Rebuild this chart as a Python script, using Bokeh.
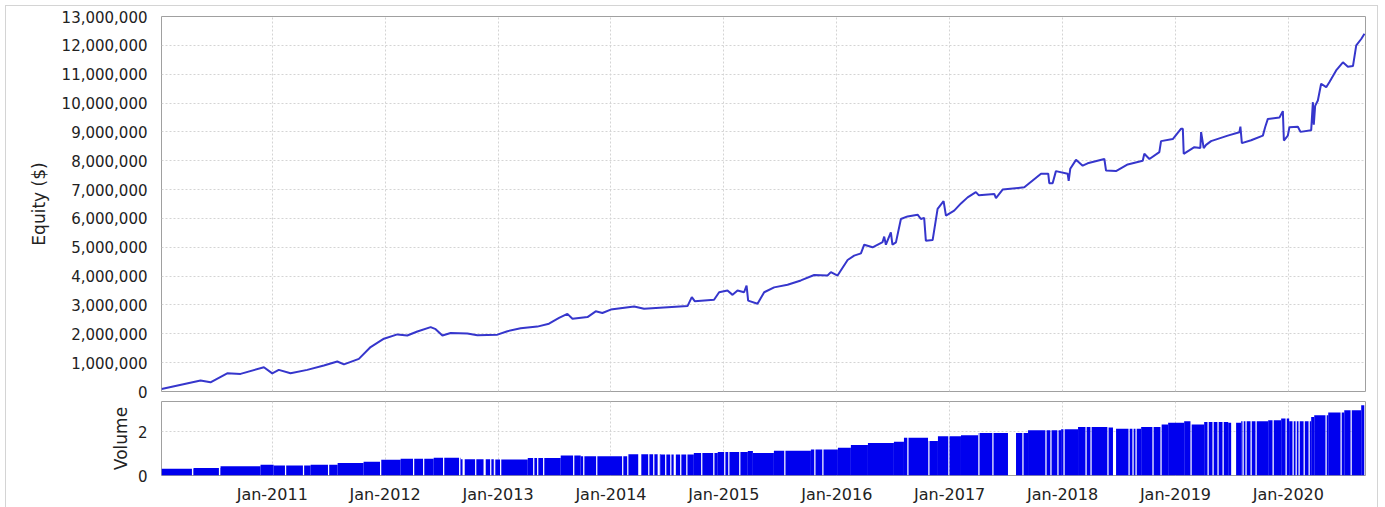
from bokeh.plotting import figure
from bokeh.layouts import column
from bokeh.models import (FixedTicker, NumeralTickFormatter, Range1d,
                          ColumnDataSource, CustomJSTickFormatter)
from bokeh.embed import file_html
from bokeh.resources import INLINE

# ---------------- data ----------------
tick_years = [2011, 2012, 2013, 2014, 2015, 2016, 2017, 2018, 2019, 2020]
tick_labels = ["Jan-2011", "Jan-2012", "Jan-2013", "Jan-2014", "Jan-2015",
               "Jan-2016", "Jan-2017", "Jan-2018", "Jan-2019", "Jan-2020"]

equity_ticks = [0, 1e6, 2e6, 3e6, 4e6, 5e6, 6e6, 7e6, 8e6, 9e6, 10e6, 11e6, 12e6, 13e6]
volume_ticks = [0, 2]

# equity curve: decimal year, equity in millions of $
equity_t = [2010.02, 2010.365, 2010.453, 2010.601, 2010.719, 2010.926, 2011.000, 2011.058, 2011.162, 2011.310,
            2011.457, 2011.576, 2011.635, 2011.767, 2011.871, 2011.989, 2012.108, 2012.196, 2012.285, 2012.403,
            2012.447, 2012.507, 2012.580, 2012.728, 2012.817, 2012.994, 2013.083, 2013.200, 2013.348, 2013.451,
            2013.540, 2013.614, 2013.659, 2013.792, 2013.865, 2013.924, 2013.998, 2014.205, 2014.293, 2014.678,
            2014.716, 2014.742, 2014.913, 2014.958, 2015.032, 2015.077, 2015.121, 2015.179, 2015.201, 2015.215,
            2015.298, 2015.357, 2015.445, 2015.564, 2015.682, 2015.800, 2015.918, 2015.948, 2016.007, 2016.096,
            2016.154, 2016.214, 2016.243, 2016.317, 2016.406, 2016.420, 2016.435, 2016.479, 2016.493, 2016.524,
            2016.568, 2016.627, 2016.716, 2016.745, 2016.774, 2016.789, 2016.849, 2016.893, 2016.946, 2016.967,
            2017.040, 2017.100, 2017.159, 2017.232, 2017.259, 2017.395, 2017.410, 2017.469, 2017.661, 2017.809,
            2017.873, 2017.882, 2017.912, 2017.941, 2018.045, 2018.054, 2018.068, 2018.119, 2018.178, 2018.222,
            2018.370, 2018.385, 2018.473, 2018.577, 2018.710, 2018.724, 2018.769, 2018.857, 2018.872, 2018.976,
            2019.050, 2019.065, 2019.073, 2019.167, 2019.220, 2019.227, 2019.250, 2019.271, 2019.315, 2019.463,
            2019.566, 2019.575, 2019.588, 2019.670, 2019.774, 2019.794, 2019.818, 2019.921, 2019.951, 2019.960,
            2019.995, 2020.009, 2020.084, 2020.107, 2020.202, 2020.217, 2020.225, 2020.237, 2020.261, 2020.290,
            2020.335, 2020.364, 2020.423, 2020.483, 2020.527, 2020.572, 2020.601, 2020.645, 2020.674]
equity_musd = [0.09, 0.38, 0.32, 0.63, 0.61, 0.84, 0.63, 0.75, 0.63, 0.75,
               0.90, 1.04, 0.94, 1.13, 1.54, 1.83, 1.98, 1.94, 2.08, 2.23,
               2.16, 1.94, 2.03, 2.01, 1.95, 1.97, 2.09, 2.19, 2.25, 2.35,
               2.55, 2.69, 2.52, 2.58, 2.78, 2.72, 2.84, 2.95, 2.87, 2.96,
               3.27, 3.13, 3.18, 3.44, 3.50, 3.35, 3.50, 3.44, 3.67, 3.15,
               3.04, 3.44, 3.61, 3.70, 3.85, 4.04, 4.02, 4.14, 4.02, 4.56,
               4.71, 4.79, 5.09, 5.00, 5.18, 5.37, 5.09, 5.52, 5.09, 5.17,
               5.98, 6.07, 6.13, 5.98, 6.02, 5.23, 5.25, 6.33, 6.60, 6.10,
               6.27, 6.52, 6.73, 6.91, 6.80, 6.85, 6.70, 7.00, 7.08, 7.55,
               7.55, 7.22, 7.22, 7.64, 7.55, 7.30, 7.72, 8.03, 7.83, 7.91,
               8.06, 7.66, 7.64, 7.87, 8.00, 8.24, 8.06, 8.30, 8.68, 8.75,
               9.11, 9.11, 8.24, 8.47, 8.44, 8.99, 8.44, 8.55, 8.68, 8.87,
               8.99, 9.18, 8.61, 8.71, 8.87, 9.16, 9.45, 9.50, 9.72, 8.70,
               8.87, 9.16, 9.18, 9.00, 9.06, 10.03, 9.25, 9.90, 10.09, 10.67,
               10.55, 10.73, 11.13, 11.41, 11.26, 11.28, 12.00, 12.22, 12.40]

# volume: step levels starting at each decimal year
vol_t = [2010.019, 2010.303, 2010.542, 2010.896, 2011.012, 2011.340, 2011.579, 2011.809, 2011.960,
         2012.137, 2012.430, 2012.669, 2012.961, 2013.263, 2013.555, 2013.732, 2014.149, 2014.441,
         2014.734, 2014.946, 2015.212, 2015.257, 2015.443, 2015.771, 2016.010, 2016.125, 2016.276,
         2016.506, 2016.595, 2016.808, 2016.896, 2017.100, 2017.251, 2017.694, 2017.987, 2018.137,
         2018.403, 2018.456, 2018.696, 2018.873, 2018.935, 2019.077, 2019.139, 2019.254, 2019.467,
         2019.582, 2019.821, 2019.936, 2020.007, 2020.202, 2020.229, 2020.353, 2020.495, 2020.645, 2020.672]
vol_level = [0.31, 0.34, 0.42, 0.49, 0.46, 0.49, 0.57, 0.63, 0.72,
             0.77, 0.82, 0.75, 0.74, 0.80, 0.92, 0.88, 0.98, 0.97,
             1.03, 1.08, 1.12, 1.03, 1.14, 1.20, 1.28, 1.40, 1.49,
             1.55, 1.74, 1.59, 1.80, 1.85, 1.95, 2.08, 2.12, 2.23,
             2.20, 2.15, 2.23, 2.34, 2.42, 2.49, 2.34, 2.46, 2.42,
             2.49, 2.54, 2.62, 2.49, 2.69, 2.77, 2.89, 3.00, 3.23, 3.26]

# periods with no volume: centre (decimal year) and length in days
gap_t = [2010.294, 2010.533, 2011.118, 2011.277, 2011.499, 2011.960, 2012.252, 2012.341, 2012.518, 2012.660,
         2012.695, 2012.802, 2012.881, 2012.935, 2012.970, 2013.023, 2013.316, 2013.351, 2013.404, 2013.670,
         2013.759, 2013.874, 2014.104, 2014.149, 2014.255, 2014.335, 2014.379, 2014.423, 2014.485, 2014.530,
         2014.565, 2014.618, 2014.672, 2014.804, 2014.911, 2015.008, 2015.044, 2015.141, 2015.540, 2015.806,
         2015.877, 2016.630, 2016.816, 2016.993, 2017.259, 2017.383, 2017.552, 2017.649, 2017.853, 2017.897,
         2017.959, 2018.013, 2018.208, 2018.252, 2018.402, 2018.460, 2018.589, 2018.624, 2018.651, 2018.801,
         2018.872, 2019.138, 2019.289, 2019.333, 2019.377, 2019.422, 2019.515, 2019.599, 2019.625, 2019.670,
         2019.714, 2019.865, 2019.980, 2020.042, 2020.069, 2020.095, 2020.140, 2020.184, 2020.334, 2020.467,
         2020.556]
gap_days = [4, 4, 4, 4, 4, 4, 4, 4, 4, 4,
            7, 4, 7, 4, 4, 4, 4, 4, 4, 4,
            4, 4, 4, 4, 10, 4, 4, 7, 4, 4,
            7, 4, 4, 4, 4, 4, 4, 4, 4, 4,
            4, 4, 4, 4, 4, 4, 26, 4, 4, 4,
            4, 4, 4, 4, 4, 10, 4, 4, 4, 4,
            4, 4, 4, 4, 4, 4, 16, 4, 4, 4,
            4, 4, 4, 4, 4, 4, 4, 4, 4, 4,
            4]

X_START, X_END = 2010.019, 2020.683

# ---------------- build volume bar segments ----------------
gaps = sorted((c - d / 365.25 / 2, c + d / 365.25 / 2) for c, d in zip(gap_t, gap_days))
seg_l, seg_r, seg_top = [], [], []
for i in range(len(vol_t) - 1):
    a, b, h = vol_t[i], vol_t[i + 1], vol_level[i]
    cur = a
    for gs, ge in gaps:
        if ge <= cur or gs >= b:
            continue
        if gs > cur:
            seg_l.append(cur); seg_r.append(gs); seg_top.append(h)
        cur = max(cur, ge)
    if cur < b:
        seg_l.append(cur); seg_r.append(b); seg_top.append(h)

# ---------------- styling helpers ----------------
FONT = "DejaVu Sans"
TXT = "#222222"
GRID = "#d4d4d4"
FRAME = "#a0a0a0"

def style(p):
    p.outline_line_color = FRAME
    p.outline_line_width = 1
    p.background_fill_color = "white"
    p.border_fill_color = "white"
    for ax in p.axis:
        ax.axis_line_color = None
        ax.major_tick_line_color = None
        ax.minor_tick_line_color = None
        ax.major_tick_out = 0
        ax.major_tick_in = 0
        ax.minor_tick_out = 0
        ax.minor_tick_in = 0
        ax.major_label_text_font = FONT
        ax.major_label_text_font_size = "15px"
        ax.major_label_text_color = TXT
        ax.axis_label_text_font = FONT
        ax.axis_label_text_font_size = "17px"
        ax.axis_label_text_font_style = "normal"
        ax.axis_label_text_color = TXT
    for g in p.grid:
        g.grid_line_color = GRID
        g.grid_line_dash = "2 2"
        g.grid_line_width = 1

W = 1371
# ---------------- equity figure ----------------
p1 = figure(width=W, height=395,
            x_range=Range1d(X_START, X_END), y_range=Range1d(0, 13e6),
            output_backend="svg", toolbar_location=None,
            min_border_left=155, min_border_right=12, min_border_top=10, min_border_bottom=10)
src1 = ColumnDataSource(dict(t=equity_t, eq=[v * 1e6 for v in equity_musd]))
p1.line("t", "eq", source=src1, line_color="#3636cc", line_width=2)
p1.xaxis.ticker = FixedTicker(ticks=tick_years)
p1.xaxis.visible = False
p1.yaxis.ticker = FixedTicker(ticks=equity_ticks)
p1.yaxis.formatter = NumeralTickFormatter(format="0,0")
p1.yaxis.axis_label = "Equity ($)"
style(p1)
p1.yaxis.major_label_standoff = 14
p1.yaxis.axis_label_standoff = 10

# ---------------- volume figure ----------------
p2 = figure(width=W, height=106,
            x_range=p1.x_range, y_range=Range1d(0, 3.4),
            output_backend="svg", toolbar_location=None,
            min_border_left=155, min_border_right=12, min_border_top=0, min_border_bottom=32)
src2 = ColumnDataSource(dict(l=seg_l, r=seg_r, top=seg_top, b=[0] * len(seg_l)))
p2.quad(left="l", right="r", top="top", bottom="b", source=src2,
        fill_color="#0000ee", line_color=None)
p2.xaxis.ticker = FixedTicker(ticks=tick_years)
p2.xaxis.formatter = CustomJSTickFormatter(
    args=dict(years=tick_years, labels=tick_labels),
    code="const i = years.indexOf(Math.round(tick)); return i >= 0 ? labels[i] : '';")
p2.yaxis.ticker = FixedTicker(ticks=volume_ticks)
p2.yaxis.axis_label = "Volume"
style(p2)
p2.xaxis.major_label_text_font_size = "16px"
p2.xaxis.major_label_standoff = 9
p2.yaxis.major_label_standoff = 14
p2.yaxis.axis_label_standoff = 4

layout = column(p1, p2, spacing=0,
                styles={"margin-left": "5px", "margin-top": "5px",
                        "border-top": "1px solid #d4d4d4",
                        "border-left": "1px solid #d4d4d4",
                        "border-right": "1px solid #d4d4d4"})

open("out.html", "w").write(file_html(layout, INLINE))
